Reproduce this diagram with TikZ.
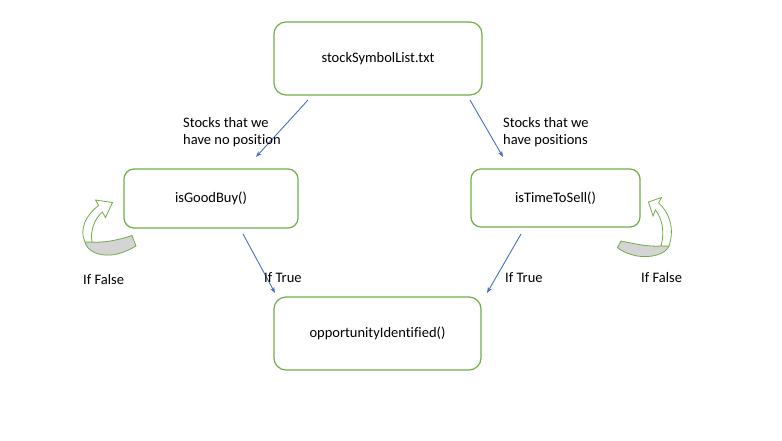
\documentclass[tikz,border=0pt]{standalone}
\usepackage{fontspec}
\setmainfont[Ligatures=NoCommon]{Carlito}
\usetikzlibrary{arrows.meta}
\definecolor{boxgreen}{HTML}{70AD47}
\definecolor{arrblue}{HTML}{4472C4}
\definecolor{bandgrey}{HTML}{D4D4D4}
\begin{document}
\begin{tikzpicture}[x=1pt,y=-1pt,
  fnt/.style={font=\fontsize{14.5}{17.7}\selectfont},
  procbox/.style={draw=boxgreen, line width=1.2pt, rounded corners=12pt, fill=white},
  flow/.style={draw=arrblue, line width=0.9pt, -{Stealth[length=6pt,width=4.5pt]}},
  lbl/.style={fnt, inner sep=0pt, text=black},
  bandgr/.style={draw=boxgreen, line width=0.8pt, fill=bandgrey},
  bandwh/.style={draw=boxgreen, line width=0.8pt, fill=white, line join=miter}]
\useasboundingbox (0,0) rectangle (782,440);
\fill[white] (0,0) rectangle (782,440);

% boxes
\draw[procbox] (274,22) rectangle (482,95);
\node[lbl] (src) at (378,58.5) {stockSymbolList.txt};
\draw[procbox, rounded corners=10pt] (124,169) rectangle (298,228);
\node[lbl] (buy) at (211,198.5) {isGoodBuy()};
\draw[procbox, rounded corners=10pt] (471,169) rectangle (640,227);
\node[lbl] (sell) at (555.5,198) {isTimeToSell()};
\draw[procbox] (274,297) rectangle (481,370);
\node[lbl] (opp) at (377.5,333.5) {opportunityIdentified()};

% connector end points
\coordinate (a1s) at (308,100);
\coordinate (a1e) at (256,157);
\coordinate (a2s) at (470,100);
\coordinate (a2e) at (503,157);
\coordinate (a3s) at (243,234);
\coordinate (a3e) at (275,293);
\coordinate (a4s) at (521,234);
\coordinate (a4e) at (487,293);

\draw[flow] (a1s) -- (a1e);
\draw[flow] (a2s) -- (a2e);
\draw[flow] (a3s) -- (a3e);
\draw[flow] (a4s) -- (a4e);

% labels
\node[lbl, align=left, anchor=west] (l1) at (183,132) {Stocks that we\\have no position};
\node[lbl, align=left, anchor=west] (l2) at (503,132) {Stocks that we\\have positions};
\node[lbl, anchor=west] (t1) at (264,278) {If True};
\node[lbl, anchor=west] (t2) at (505,278) {If True};
\node[lbl, anchor=west] (f1) at (83,279.5) {If False};
\node[lbl, anchor=west] (f2) at (641,278) {If False};

% left curved arrow
\path[bandgr] (132,235.5) .. controls (118,240.5) and (101,243) .. (92,242)
  -- (85,242) .. controls (87,251) and (98,256) .. (111,255)
  .. controls (121,254) and (129,250) .. (136,246) -- cycle;
\path[bandwh] (85,242) .. controls (79,229) and (86,215) .. (98.6,205.5)
  -- (95.5,200) -- (112.5,202.5) -- (105.5,217.5) -- (102.4,212)
  .. controls (94,219) and (90,232) .. (92,242) -- cycle;

% right curved arrow
\path[bandgr] (621,241) .. controls (635,244) and (650,247) .. (661,246)
  -- (669,246) .. controls (665,255) and (650,258) .. (637,256)
  .. controls (628,254) and (621,251) .. (617.5,247.5) -- cycle;
\path[bandwh] (669,246) .. controls (675,228) and (669,212) .. (658.6,203)
  -- (661.5,197.5) -- (648.5,202) -- (653,216) -- (655.4,210)
  .. controls (662,218) and (665,232) .. (661,246) -- cycle;
\end{tikzpicture}
\end{document}
